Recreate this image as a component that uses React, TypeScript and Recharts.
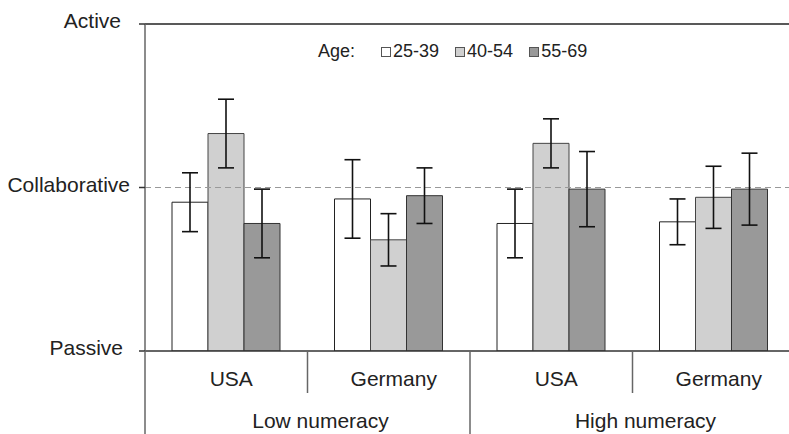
import { BarChart, Bar, XAxis, YAxis, ErrorBar, ReferenceLine, Legend } from 'recharts'

const countries = ['USA', 'Germany', 'USA', 'Germany']
const numeracy = ['Low numeracy', 'Low numeracy', 'High numeracy', 'High numeracy']

const age25 = [1.91, 1.93, 1.78, 1.79]
const age40 = [2.33, 1.68, 2.27, 1.94]
const age55 = [1.78, 1.95, 1.99, 1.99]

const err25 = [0.18, 0.24, 0.21, 0.14]
const err40 = [0.21, 0.16, 0.15, 0.19]
const err55 = [0.21, 0.17, 0.23, 0.22]

const yTicks = [1, 2, 3]
const yLabels: Record<number, string> = { 1: 'Passive', 2: 'Collaborative', 3: 'Active' }

const ageGroups = [
  { name: '25-39', fill: '#ffffff', stroke: '#222222' },
  { name: '40-54', fill: '#d0d0d0', stroke: '#444444' },
  { name: '55-69', fill: '#999999', stroke: '#333333' },
]

const chartData = countries.map((country, i) => ({
  country,
  numeracy: numeracy[i],
  a25: age25[i],
  a40: age40[i],
  a55: age55[i],
  e25: err25[i],
  e40: err40[i],
  e55: err55[i],
}))

const FONT = '"Liberation Sans", Arial, Helvetica, sans-serif'
const HALF_BAND = 162.5 / 2
// the source labels are not quite right-aligned
const labelNudge: Record<number, number> = { 1: -2, 2: 5, 3: -4 }

function CategoryTick(props: any) {
  const { x, y, payload, index } = props
  const half = payload && payload.offset ? payload.offset : HALF_BAND
  const left = x - half
  const major = index % 2 === 0
  return (
    <g>
      <line x1={left} y1={y} x2={left} y2={y + (major ? 83 : 42)} stroke="#666" strokeWidth={1.5} />
      <text x={x + 5} y={y + 35} textAnchor="middle" fontSize={21} fill="#222" fontFamily={FONT}>
        {payload.value}
      </text>
      {major && (
        <text x={x + half + 13} y={y + 77} textAnchor="middle" fontSize={21} fill="#222" fontFamily={FONT}>
          {numeracy[index]}
        </text>
      )}
    </g>
  )
}

function LevelTick(props: any) {
  const { x, y, payload } = props
  return (
    <text x={x - 14 + (labelNudge[payload.value] || 0)} y={y + 4} textAnchor="end" fontSize={21} fill="#222" fontFamily={FONT}>
      {yLabels[payload.value]}
    </text>
  )
}

function AgeLegend() {
  return (
    <div style={{ display: 'flex', alignItems: 'center', fontFamily: FONT, fontSize: 18, color: '#222', whiteSpace: 'nowrap' }}>
      <span style={{ marginRight: 26 }}>Age:</span>
      {ageGroups.map(g => (
        <span key={g.name} style={{ display: 'flex', alignItems: 'center', marginRight: 16 }}>
          <span style={{ width: 8, height: 8, background: g.fill, border: '1px solid #555', marginRight: 2 }} />
          {g.name}
        </span>
      ))}
    </div>
  )
}

export default function App() {
  return (
    <div style={{ position: 'absolute', left: 0, top: 0, width: 789, height: 434, overflow: 'hidden', background: '#fff' }}>
      <BarChart
        width={795}
        height={434}
        data={chartData}
        margin={{ top: 24, right: 0, bottom: 0, left: 0 }}
        barCategoryGap={27}
        barGap={0}
      >
        <XAxis
          dataKey="country"
          height={83}
          tickLine={false}
          tickSize={0}
          tickMargin={0}
          axisLine={{ stroke: '#333', strokeWidth: 1.5 }}
          tick={<CategoryTick />}
          interval={0}
        />
        <YAxis
          width={145}
          domain={[1, 3]}
          ticks={yTicks}
          type="number"
          tickSize={6}
          tickMargin={0}
          tickLine={{ stroke: '#333', strokeWidth: 1.5 }}
          axisLine={{ stroke: '#666', strokeWidth: 1.5 }}
          tick={<LevelTick />}
          allowDataOverflow
        />
        <ReferenceLine y={3} stroke="#222" strokeWidth={1.5} />
        <ReferenceLine y={2} stroke="#999" strokeDasharray="6 4" strokeWidth={1.2} />
        <Legend
          layout="horizontal"
          verticalAlign="middle"
          align="center"
          wrapperStyle={{ top: 41, left: 318, width: 'auto' }}
          content={<AgeLegend />}
        />
        <Bar dataKey="a25" name="25-39" fill="#ffffff" stroke="#222" strokeWidth={1} isAnimationActive={false}>
          <ErrorBar dataKey="e25" width={8} stroke="#111" strokeWidth={1.6} />
        </Bar>
        <Bar dataKey="a40" name="40-54" fill="#d0d0d0" stroke="#444" strokeWidth={1} isAnimationActive={false}>
          <ErrorBar dataKey="e40" width={8} stroke="#111" strokeWidth={1.6} />
        </Bar>
        <Bar dataKey="a55" name="55-69" fill="#999999" stroke="#333" strokeWidth={1} isAnimationActive={false}>
          <ErrorBar dataKey="e55" width={8} stroke="#111" strokeWidth={1.6} />
        </Bar>
      </BarChart>
    </div>
  )
}
